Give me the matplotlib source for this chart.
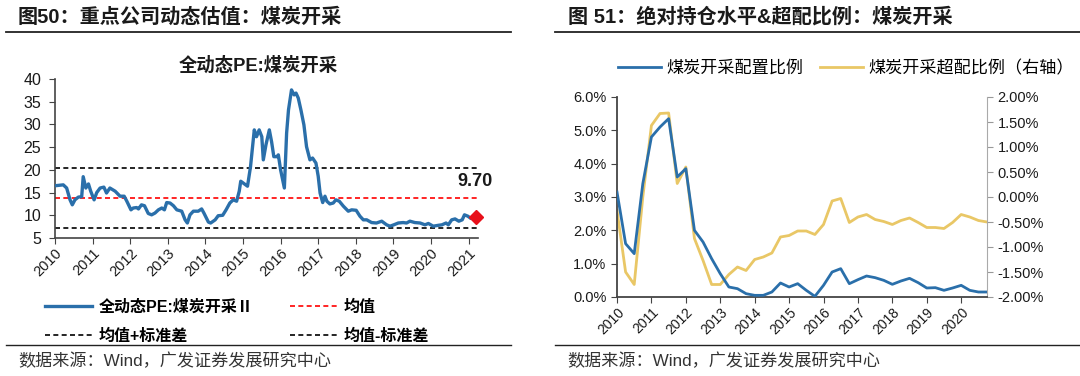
import matplotlib
matplotlib.use("Agg")
import matplotlib.pyplot as plt
from matplotlib.lines import Line2D

plt.rcParams['font.family'] = ['Liberation Sans', 'Noto Sans CJK SC', 'DejaVu Sans']
plt.rcParams['axes.unicode_minus'] = False

# ---------------------
# DATA
# ---------------------
# 图50: 全动态PE (decimal year, value)
pe_years = [2010.00, 2010.22, 2010.31, 2010.40, 2010.46, 2010.53, 2010.62, 2010.71, 2010.75, 2010.82,
            2010.89, 2010.95, 2011.04, 2011.11, 2011.20, 2011.30, 2011.37, 2011.46, 2011.60, 2011.73,
            2011.84, 2011.91, 2012.02, 2012.08, 2012.17, 2012.22, 2012.30, 2012.38, 2012.48, 2012.57,
            2012.66, 2012.75, 2012.84, 2012.91, 2012.97, 2013.06, 2013.15, 2013.24, 2013.37, 2013.46,
            2013.52, 2013.59, 2013.68, 2013.81, 2013.90, 2013.96, 2014.08, 2014.14, 2014.26, 2014.34,
            2014.46, 2014.55, 2014.65, 2014.74, 2014.83, 2014.90, 2014.94, 2015.04, 2015.12, 2015.20,
            2015.30, 2015.36, 2015.43, 2015.50, 2015.54, 2015.61, 2015.70, 2015.76, 2015.82, 2015.90,
            2015.94, 2016.00, 2016.10, 2016.16, 2016.21, 2016.29, 2016.36, 2016.41, 2016.47, 2016.54,
            2016.62, 2016.69, 2016.78, 2016.85, 2016.94, 2017.00, 2017.05, 2017.12, 2017.18, 2017.23,
            2017.31, 2017.40, 2017.47, 2017.56, 2017.67, 2017.80, 2017.89, 2018.01, 2018.11, 2018.20,
            2018.29, 2018.42, 2018.55, 2018.69, 2018.82, 2018.91, 2019.01, 2019.13, 2019.26, 2019.35,
            2019.44, 2019.57, 2019.71, 2019.84, 2019.93, 2020.06, 2020.20, 2020.29, 2020.40, 2020.46,
            2020.55, 2020.64, 2020.74, 2020.83, 2020.89, 2020.98, 2021.06, 2021.13, 2021.20]
pe_values = [16.5, 16.7, 16.0, 13.4, 12.3, 13.4, 14.0, 14.1, 18.5, 16.0,
             16.9, 15.3, 13.4, 15.0, 16.0, 16.2, 14.9, 16.0, 15.3, 14.2,
             14.2, 13.1, 11.2, 11.6, 11.7, 11.4, 12.3, 12.1, 10.4, 10.1,
             10.5, 11.2, 11.6, 11.2, 12.8, 12.7, 12.1, 11.2, 10.9, 9.0,
             8.3, 10.1, 10.9, 10.9, 11.4, 10.5, 8.5, 8.3, 9.0, 9.9,
             10.0, 11.2, 12.7, 13.4, 13.1, 15.3, 17.5, 16.9, 16.4, 20.7,
             28.8, 27.3, 28.8, 27.3, 22.2, 25.5, 28.8, 26.2, 22.9, 22.9,
             23.3, 20.0, 16.0, 28.1, 33.2, 37.6, 36.5, 36.9, 35.8, 33.2,
             29.9, 25.1, 22.2, 22.6, 21.5, 18.6, 14.9, 12.8, 14.2, 13.1,
             12.5, 12.7, 13.4, 13.1, 12.0, 10.9, 11.2, 11.1, 9.8, 9.0,
             9.0, 8.4, 8.3, 8.7, 7.9, 7.6, 7.9, 8.3, 8.4, 8.3,
             8.7, 8.4, 8.3, 7.9, 8.2, 7.6, 7.8, 7.9, 8.3, 7.9,
             9.0, 9.2, 8.7, 9.0, 10.1, 9.8, 9.3, 9.6, 9.7]
pe_mean = 13.8
pe_std = 6.6
pe_latest = 9.70
pe_years_ticks = list(range(2010, 2022))

# 图51: quarterly from 2010Q1
q_start = 2010
alloc_ratio = [3.15, 1.6, 1.3, 3.4, 4.8, 5.1, 5.35, 3.6, 3.85, 2.0,
               1.65, 1.15, 0.7, 0.3, 0.25, 0.1, 0.05, 0.05, 0.15, 0.42,
               0.3, 0.4, 0.2, 0.02, 0.35, 0.75, 0.85, 0.4, 0.52, 0.63,
               0.58, 0.5, 0.38, 0.48, 0.56, 0.43, 0.27, 0.28, 0.2, 0.27,
               0.35, 0.2, 0.15, 0.15]
over_ratio = [-0.27, -1.5, -1.75, 0.0, 1.43, 1.67, 1.68, 0.27, 0.6, -0.83,
              -1.27, -1.75, -1.75, -1.55, -1.4, -1.47, -1.25, -1.2, -1.12, -0.8,
              -0.77, -0.68, -0.68, -0.75, -0.55, -0.08, -0.03, -0.51, -0.4, -0.35,
              -0.45, -0.49, -0.55, -0.47, -0.42, -0.51, -0.61, -0.61, -0.63, -0.51,
              -0.35, -0.4, -0.47, -0.5]
q_years = [q_start + 0.25 * i for i in range(len(alloc_ratio))]
r_years_ticks = list(range(2010, 2021))

BLUE = '#2A6FAA'
YELLOW = '#E9C766'
TXT = '#1a1a1a'

# ---------------------
# FIGURE
# ---------------------
W, H = 1080, 376
fig = plt.figure(figsize=(W / 100, H / 100), dpi=100)


def fx(px):
    return px / W


def fy(py):
    return 1 - py / H


# titles, rules, sources
fig.text(fx(18), fy(17), '图50：重点公司动态估值：煤炭开采', fontsize=14.5, fontweight='bold',
         color=TXT, va='center', ha='left')
fig.text(fx(568), fy(17), '图 51：绝对持仓水平&超配比例：煤炭开采', fontsize=14.5, fontweight='bold',
         color=TXT, va='center', ha='left')
for x0, x1 in [(6, 511), (555, 1080)]:
    fig.add_artist(Line2D([fx(x0), fx(x1)], [fy(32), fy(32)], color='#222222', lw=1.3))
    fig.add_artist(Line2D([fx(x0), fx(x1)], [fy(345), fy(345)], color='#222222', lw=1.0))
fig.text(fx(18), fy(361), '数据来源：Wind，广发证券发展研究中心', fontsize=12.3, color='#333333',
         va='center', ha='left')
fig.text(fx(567), fy(361), '数据来源：Wind，广发证券发展研究中心', fontsize=12.3, color='#333333',
         va='center', ha='left')

# ---------------------
# LEFT CHART
# ---------------------
ax = fig.add_axes([fx(55), fy(238), fx(478 - 55), (238 - 79) / H])
ax.plot(pe_years, pe_values, color=BLUE, lw=2.4, solid_joinstyle='round',
        label='全动态PE:煤炭开采Ⅱ', zorder=3)
ax.axhline(pe_mean, color='#FF0000', lw=1.2, ls=(0, (3, 2)), label='均值', zorder=2)
ax.axhline(pe_mean + pe_std, color='black', lw=1.2, ls=(0, (3, 2)), label='均值+标准差', zorder=2)
ax.axhline(pe_mean - pe_std, color='black', lw=1.2, ls=(0, (3, 2)), label='均值-标准差', zorder=2)
ax.plot([pe_years[-1]], [pe_latest], marker='D', color='#E8101A', ms=7, zorder=4, clip_on=False)
ax.text(pe_years[-1] + 0.45, pe_latest + 7.8, f'{pe_latest:.2f}', fontsize=13, fontweight='bold',
        ha='right', va='center', color=TXT)
ax.set_xlim(2010, 2021.25)
ax.set_ylim(5, 40)
ax.set_yticks(range(5, 41, 5))
ax.set_xticks(pe_years_ticks)
ax.set_xticklabels([str(y) for y in pe_years_ticks], rotation=45, ha='right',
                   rotation_mode='anchor', fontsize=10.5)
ax.tick_params(axis='y', labelsize=11.5, length=4, color='#444444', labelcolor=TXT, pad=6)
ax.tick_params(axis='x', length=4, color='#444444', labelcolor=TXT, pad=2)
for s in ['top', 'right']:
    ax.spines[s].set_visible(False)
for s in ['left', 'bottom']:
    ax.spines[s].set_color('#444444')
    ax.spines[s].set_linewidth(1.2)
ax.set_title('全动态PE:煤炭开采', fontsize=13.2, fontweight='bold', color=TXT, pad=6, x=0.48)
handles, labels = ax.get_legend_handles_labels()
order = [0, 2, 1, 3]
fig.legend([handles[i] for i in order], [labels[i] for i in order], ncol=2,
           loc='upper left', bbox_to_anchor=(fx(31), fy(285)), frameon=False,
           prop={'size': 11.5, 'weight': 'bold'}, handlelength=2.9, handletextpad=0.45,
           columnspacing=2.3, labelspacing=0.85)

# ---------------------
# RIGHT CHART
# ---------------------
ax1 = fig.add_axes([fx(617), fy(297), fx(987 - 617), 200 / H])
ax2 = ax1.twinx()
l1, = ax1.plot(q_years, alloc_ratio, color=BLUE, lw=2.0, label='煤炭开采配置比例', zorder=3)
l2, = ax2.plot(q_years, over_ratio, color=YELLOW, lw=2.0, label='煤炭开采超配比例（右轴）')
ax1.set_zorder(ax2.get_zorder() + 1)
ax1.patch.set_visible(False)
ax1.set_xlim(2010, q_years[-1])
ax1.set_ylim(0, 6)
ax2.set_ylim(-2, 2)
ax1.set_yticks([0, 1, 2, 3, 4, 5, 6])
ax1.set_yticklabels([f'{v:.1f}%' for v in range(7)])
r_ticks = [-2, -1.5, -1, -0.5, 0, 0.5, 1, 1.5, 2]
ax2.set_yticks(r_ticks)
ax2.set_yticklabels([f'{v:.2f}%' for v in r_ticks])
ax1.set_xticks(r_years_ticks)
ax1.set_xticklabels([str(y) for y in r_years_ticks], rotation=45, ha='right',
                    rotation_mode='anchor', fontsize=10)
ax1.tick_params(axis='y', labelsize=10.5, length=4, color='#444444', labelcolor=TXT)
ax1.tick_params(axis='x', length=4, color='#444444', labelcolor=TXT, pad=2)
ax2.tick_params(axis='y', labelsize=10.5, length=4, color='#999999', labelcolor=TXT)
for a in (ax1, ax2):
    a.spines['top'].set_visible(False)
ax1.spines['right'].set_visible(False)
ax1.spines['left'].set_color('#444444')
ax1.spines['left'].set_linewidth(1.3)
ax1.spines['bottom'].set_color('#444444')
ax1.spines['bottom'].set_linewidth(1.3)
ax2.spines['left'].set_visible(False)
ax2.spines['bottom'].set_visible(False)
ax2.spines['right'].set_color('#AAAAAA')
fig.legend([l1, l2], [l1.get_label(), l2.get_label()], ncol=2, loc='center left',
           bbox_to_anchor=(fx(603), fy(68)), frameon=False, prop={'size': 12.3},
           handlelength=2.5, handletextpad=0.3, columnspacing=1.0)

fig.savefig('out.png', dpi=100)
